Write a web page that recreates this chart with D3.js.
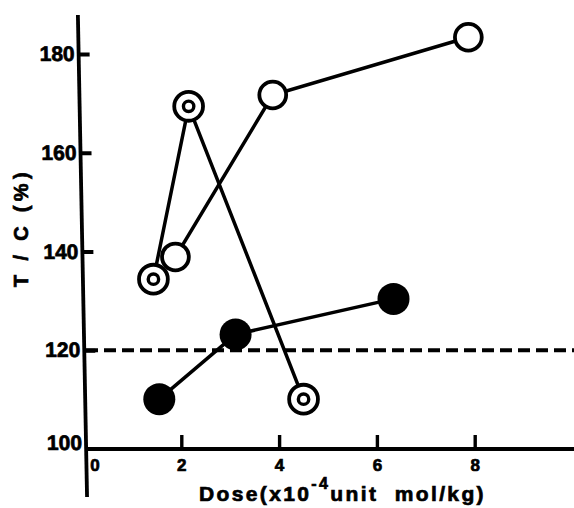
<!DOCTYPE html>
<html><head><meta charset="utf-8">
<script src="https://cdn.jsdelivr.net/npm/d3@7"></script>
<style>body{margin:0;background:#fff} svg{display:block} text{font-family:"Liberation Sans",Arial,sans-serif;font-weight:bold;fill:#000;stroke:#000;stroke-width:0.7px}</style>
</head><body><svg id="c" width="574" height="508"></svg>
<script>
// ---- data ----
const xTicks = [0, 2, 4, 6, 8];
const yTicks = [100, 120, 140, 160, 180];
const doubleX = [1.43, 2.15, 4.50];
const doubleY = [134.4, 169.4, 110.1];
const openX = [1.88, 3.87, 7.87];
const openY = [138.9, 171.7, 183.4];
const filledX = [1.55, 3.11, 6.34];
const filledY = [110.1, 123.2, 130.4];
const threshold = 120;
const yLabel = "T / C (%)";
const xLabelParts = ["Dose(x10", "-4", "unit mol/kg)"];

// ---- layout ----
const svg = d3.select("#c");
const x = d3.scaleLinear().domain([0, 10]).range([83.5, 83.5 + 489]);
const y = d3.scaleLinear().domain([100, 180]).range([449, 54]);
const ink = "#000";

// dashed threshold line
svg.append("line")
  .attr("x1", 86).attr("x2", 574)
  .attr("y1", y(threshold)).attr("y2", y(threshold))
  .attr("stroke", ink).attr("stroke-width", 3.8)
  .attr("stroke-dasharray", "12,6");

// x axis
const xAxis = svg.append("g").attr("transform", `translate(0,${y(100)})`)
  .call(d3.axisBottom(x).tickValues(xTicks).tickSizeInner(-14).tickSizeOuter(0).tickPadding(10).tickFormat(d3.format("d")));
xAxis.select(".domain").remove();
xAxis.selectAll(".tick line").attr("stroke", ink).attr("stroke-width", 3.4)
  .filter(d => d === 0).remove();
xAxis.selectAll(".tick text").attr("font-size", 17).attr("font-family", null)
  .filter(d => d === 0).attr("dx", 11);
svg.append("line").attr("x1", 86).attr("x2", 574).attr("y1", y(100)).attr("y2", y(100))
  .attr("stroke", ink).attr("stroke-width", 3.8);

// y axis (slightly slanted as in the print)
const yAxis = svg.append("g").attr("transform", "translate(77.6,0) skewX(1.09)")
  .call(d3.axisLeft(y).tickValues(yTicks).tickSizeInner(-11).tickSizeOuter(0).tickPadding(4).tickFormat(d3.format("d")));
yAxis.select(".domain").remove();
yAxis.selectAll(".tick line").attr("stroke", ink).attr("stroke-width", 3.8)
  .filter(d => d === 100).remove();
yAxis.selectAll(".tick text").attr("font-size", 21).attr("font-family", null)
  .filter(d => d === 100).attr("dy", "0.0em");
yAxis.append("line").attr("x1", 0).attr("x2", 0).attr("y1", 15).attr("y2", 497)
  .attr("stroke", ink).attr("stroke-width", 3.8);

// series lines
const line = d3.line().x(d => x(d[0])).y(d => y(d[1]));
const series = [
  { xs: doubleX, ys: doubleY, kind: "double" },
  { xs: openX, ys: openY, kind: "open" },
  { xs: filledX, ys: filledY, kind: "filled" }
];
series.forEach(s => {
  const pts = s.xs.map((v, i) => [v, s.ys[i]]);
  svg.append("path").datum(pts).attr("d", line)
    .attr("fill", "none").attr("stroke", ink).attr("stroke-width", 3.5);
});
// markers
series.forEach(s => {
  const pts = s.xs.map((v, i) => [v, s.ys[i]]);
  const g = svg.append("g").selectAll("g").data(pts).join("g")
    .attr("transform", d => `translate(${x(d[0])},${y(d[1])})`);
  if (s.kind === "filled") {
    g.append("circle").attr("r", 16).attr("fill", ink);
  } else if (s.kind === "open") {
    g.append("circle").attr("r", 13.4).attr("fill", "#fff").attr("stroke", ink).attr("stroke-width", 3.8);
  } else {
    g.append("circle").attr("r", 14.4).attr("fill", "#fff").attr("stroke", ink).attr("stroke-width", 3.8);
    g.append("circle").attr("r", 5.2).attr("fill", "#fff").attr("stroke", ink).attr("stroke-width", 3.4);
  }
});

// axis titles
function spread(sel, target) {
  const len = sel.node().getComputedTextLength();
  const n = sel.text().length;
  sel.attr("letter-spacing", ((target - len) / n).toFixed(2));
}
const xt = svg.append("text").attr("x", 199).attr("y", 501).attr("font-size", 21);
xt.append("tspan").text(xLabelParts[0]);
xt.append("tspan").attr("dy", -12).attr("font-size", 16).text(xLabelParts[1]);
xt.append("tspan").attr("dy", 12).text(xLabelParts[2].replace(" ", "\u00a0\u00a0"));
spread(xt, 287);

const yt = svg.append("text").attr("transform", "translate(28,287) rotate(-90)")
  .attr("font-size", 20).text(yLabel.replace(/ /g, "\u00a0"));
spread(yt, 119);
</script></body></html>
